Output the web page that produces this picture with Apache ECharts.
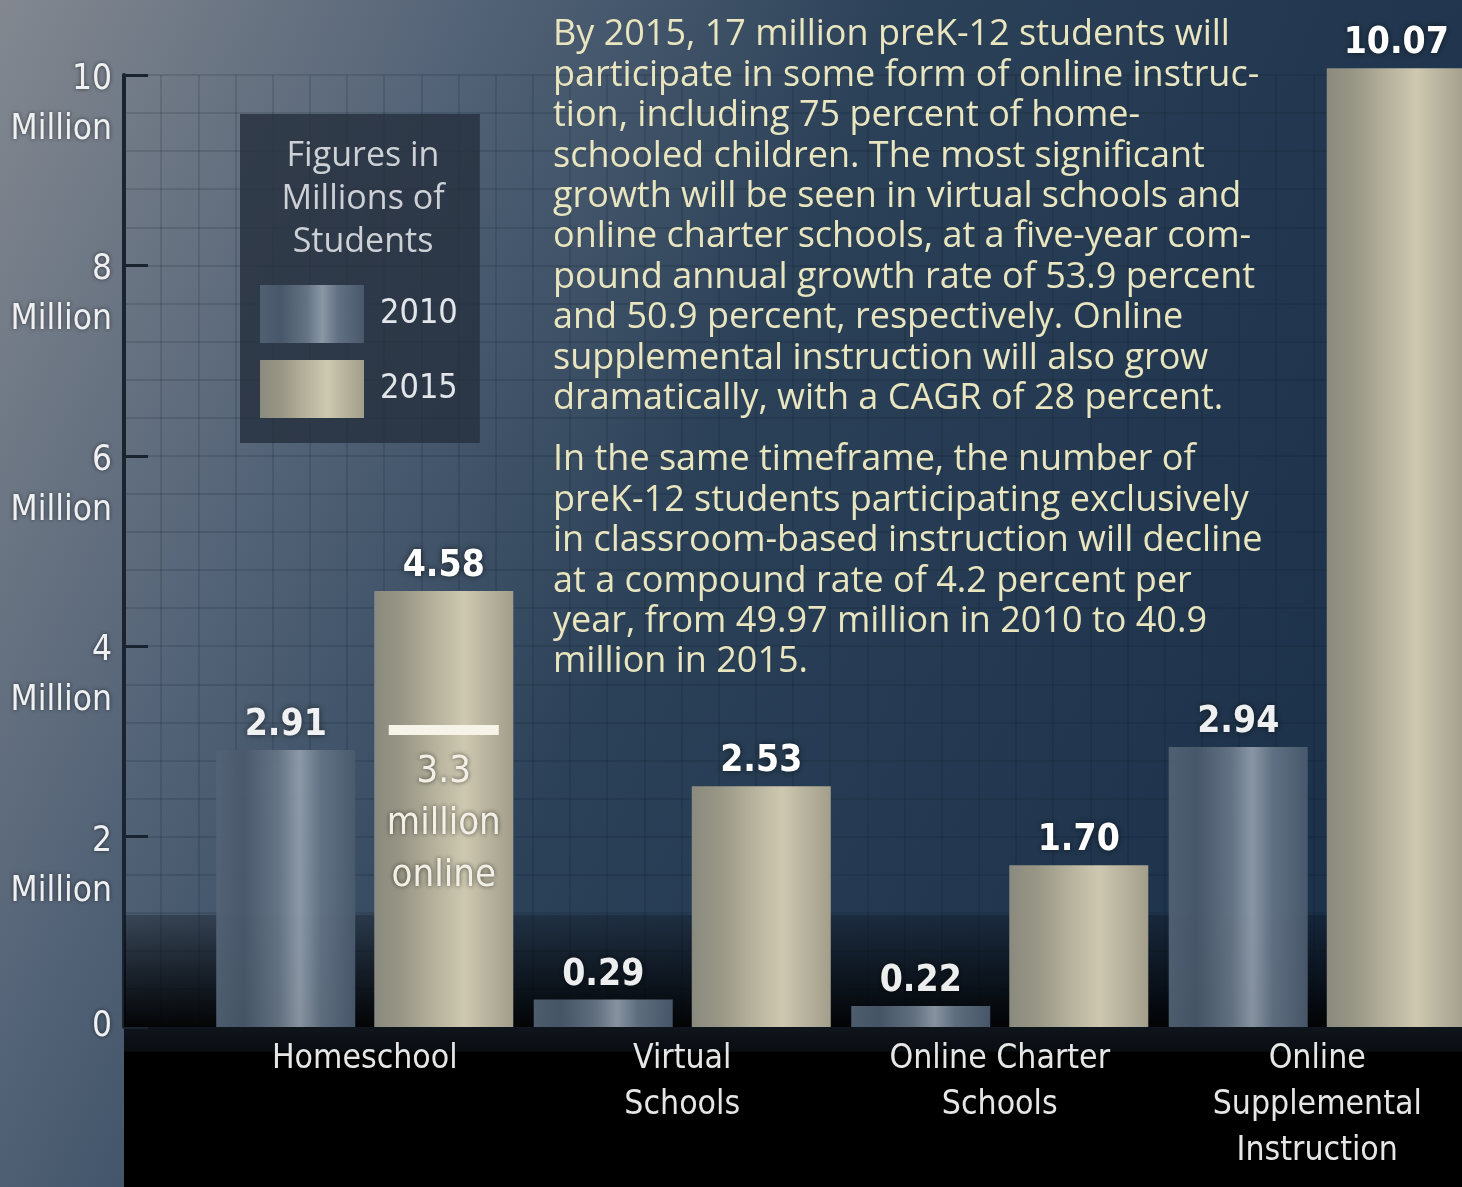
<!DOCTYPE html>
<html><head><meta charset="utf-8">
<script src="https://cdn.jsdelivr.net/npm/echarts@6/dist/echarts.min.js"></script>
<style>html,body{margin:0;padding:0;background:#000}#c{width:1462px;height:1187px}</style>
</head><body><div id="c"></div><script>
// ---------- data ----------
const categories = ['Homeschool', 'Virtual\nSchools', 'Online Charter\nSchools', 'Online\nSupplemental\nInstruction'];
const seriesNames = ['2010', '2015'];
const values2010 = [2.91, 0.29, 0.22, 2.94];
const values2015 = [4.58, 2.53, 1.70, 10.07];
const yMin = 0, yMax = 10, yInterval = 2;
const homeschoolOnlineMarker = 3.12;           // white marker line inside the 2015 Homeschool bar
const homeschoolOnlineText = '3.3\nmillion\nonline';
const legendTitle = 'Figures in\nMillions of\nStudents';
const paragraph1 = [
  'By 2015, 17 million preK-12 students will',
  'participate in some form of online instruc-',
  'tion, including 75 percent of home-',
  'schooled children. The most significant',
  'growth will be seen in virtual schools and',
  'online charter schools, at a five-year com-',
  'pound annual growth rate of 53.9 percent',
  'and 50.9 percent, respectively. Online',
  'supplemental instruction will also grow',
  'dramatically, with a CAGR of 28 percent.'
];
const paragraph2 = [
  'In the same timeframe, the number of',
  'preK-12 students participating exclusively',
  'in classroom-based instruction will decline',
  'at a compound rate of 4.2 percent per',
  'year, from 49.97 million in 2010 to 40.9',
  'million in 2015.'
];

// ---------- styles ----------
const NARROW = "'Liberation Sans Narrow','DejaVu Sans Condensed','Arial Narrow',sans-serif";
const HUMAN = "'Open Sans',Lato,sans-serif";
const grad2010 = {type:'linear',x:0,y:0,x2:1,y2:0,colorStops:[
  {offset:0,color:'#536375'},{offset:0.2,color:'#4a5a6c'},{offset:0.45,color:'#687788'},
  {offset:0.6,color:'#919dab'},{offset:0.75,color:'#657587'},{offset:1,color:'#4b5b6e'}]};
const grad2015 = {type:'linear',x:0,y:0,x2:1,y2:0,colorStops:[
  {offset:0,color:'#8a8a7f'},{offset:0.2,color:'#989685'},{offset:0.45,color:'#b7b39e'},
  {offset:0.65,color:'#cec8b0'},{offset:0.8,color:'#bab5a0'},{offset:1,color:'#a29e8b'}]};
const gridLine = {color:'rgba(10,20,35,0.18)', width:1.5};
const valueLabel = {
  show:true, position:'top', distance:6,
  formatter: p => p.value.toFixed(2),
  color:'#ffffff', fontFamily:NARROW, fontWeight:'bold', fontSize:37,
  textShadowColor:'rgba(0,0,0,0.6)', textShadowBlur:6
};
const yLabelText = {color:'#eef0f2', fontFamily:NARROW, fontSize:35, lineHeight:50, align:'right',
  textShadowColor:'rgba(0,0,0,0.55)', textShadowBlur:4};

const chart = echarts.init(document.getElementById('c'), null, {renderer:'canvas'});
chart.setOption({
  animation:false,
  backgroundColor:{type:'linear',x:0,y:0,x2:1,y2:0.55,colorStops:[
    {offset:0,color:'#838890'},{offset:0.28,color:'#526276'},{offset:0.52,color:'#2b4158'},{offset:1,color:'#1b3049'}]},
  title:[
    {text:legendTitle, left:358, top:130, textAlign:'center', z:10,
     textStyle:{color:'#cdd1d6', fontFamily:HUMAN, fontWeight:'normal', fontSize:34, lineHeight:43}},
    {text:paragraph1.join('\n'), left:548, top:10,
     textStyle:{color:'#e9e5bf', fontFamily:HUMAN, fontWeight:'normal', fontSize:36, lineHeight:40.4}},
    {text:paragraph2.join('\n'), left:548, top:435,
     textStyle:{color:'#e9e5bf', fontFamily:HUMAN, fontWeight:'normal', fontSize:36, lineHeight:40.4}}
  ],
  legend:{
    data:seriesNames, orient:'vertical', left:240, top:114, icon:'rect',
    padding:[171, 22, 25, 20], itemGap:17, itemWidth:104, itemHeight:58,
    backgroundColor:'rgba(38,48,62,0.82)', selectedMode:false,
    textStyle:{color:'#e2e6ea', fontFamily:NARROW, fontSize:34, padding:[0,0,0,11]}
  },
  grid:[
    {left:206, top:75, width:1270, bottom:160, outerBoundsMode:'none', containLabel:false},
    {left:124, top:75, right:0, bottom:160, outerBoundsMode:'none', containLabel:false}
  ],
  xAxis:[
    {type:'category', gridIndex:0, data:categories,
     axisLine:{show:false}, axisTick:{show:false},
     axisLabel:{interval:0, color:'#e6e6e6', fontFamily:NARROW, fontSize:33.5, lineHeight:46, margin:9,
       textShadowColor:'rgba(0,0,0,0.5)', textShadowBlur:3}},
    {type:'value', gridIndex:1, min:0, max:36, interval:1,
     axisLine:{show:false}, axisTick:{show:false}, axisLabel:{show:false},
     splitLine:{show:true, lineStyle:gridLine}}
  ],
  yAxis:[
    {type:'value', gridIndex:0, min:yMin, max:yMax, interval:yInterval, show:false},
    {type:'value', gridIndex:1, min:yMin, max:yMax, interval:yInterval,
     axisLine:{show:true, lineStyle:{color:'#1a2431', width:4}},
     axisTick:{show:true, inside:true, length:24, lineStyle:{color:'#1a2431', width:3}},
     axisLabel:{formatter: v => v === 0 ? '{n|0}' : '{s| }\n{n|' + v + '}\n{n|Million}',
       margin:12,
       rich:{s:{fontSize:10, lineHeight:60}, n:yLabelText}},
     splitLine:{show:true, lineStyle:gridLine},
     minorTick:{show:false, splitNumber:5},
     minorSplitLine:{show:true, lineStyle:gridLine}}
  ],
  series:[
    {name:seriesNames[0], type:'bar', xAxisIndex:0, yAxisIndex:0, data:values2010,
     barWidth:139, barGap:'13.7%', clip:false, z:2,
     itemStyle:{color:grad2010, opacity:0.93}, label:valueLabel},
    {name:seriesNames[1], type:'bar', xAxisIndex:0, yAxisIndex:0, data:values2015,
     barWidth:139, barGap:'13.7%', clip:false, z:2,
     itemStyle:{color:grad2015}, label:valueLabel,
     markPoint:{silent:true, symbol:'rect', symbolSize:[110,10],
       itemStyle:{color:'#f6f4e8'},
       label:{show:true, position:'bottom', distance:11, formatter:homeschoolOnlineText,
         color:'#f2f0e6', fontFamily:NARROW, fontSize:38, lineHeight:52,
         textShadowColor:'rgba(40,40,30,0.8)', textShadowBlur:5},
       data:[{coord:[0, homeschoolOnlineMarker]}]}},
    {name:'shade', type:'line', xAxisIndex:1, yAxisIndex:1, data:[[0,0]], symbol:'none',
     lineStyle:{opacity:0}, z:5, silent:true,
     markArea:{silent:true, label:{show:false},
       itemStyle:{color:{type:'linear',x:0,y:0,x2:0,y2:1,colorStops:[
         {offset:0,color:'rgba(8,12,20,0.3)'},{offset:0.5,color:'rgba(3,6,10,0.66)'},{offset:1,color:'rgba(0,0,0,0.94)'}]}},
       data:[[{yAxis:1.18},{yAxis:0}]]}}
  ]
});

// black band under the plot, placed from the axis scale
const yZero = chart.convertToPixel({yAxisIndex:1}, 0);
const xLeft = chart.convertToPixel({xAxisIndex:1}, 0);
chart.setOption({graphic:[{type:'rect', z:-5, silent:true,
  shape:{x:xLeft, y:yZero, width:1462 - xLeft, height:1187 - yZero},
  style:{fill:{type:'linear',x:0,y:0,x2:0,y2:1,colorStops:[
    {offset:0,color:'#10151c'},{offset:0.15,color:'#0a0d12'},{offset:0.16,color:'#000'},{offset:1,color:'#000'}]}}}]});
</script></body></html>
